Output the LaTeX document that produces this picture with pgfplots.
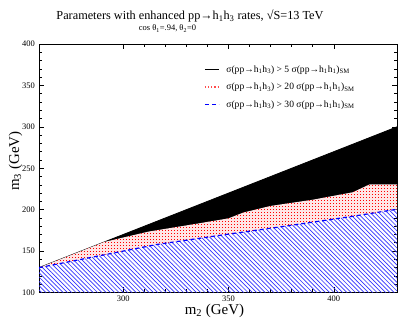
\documentclass[border=0pt]{standalone}
\usepackage{fontspec}
\setmainfont{Liberation Serif}
\usepackage{pgfplots}
\pgfplotsset{compat=1.18}
\usetikzlibrary{patterns,calc}

% diagonal hatch
\pgfdeclarepatternformonly{bluehatch}{\pgfqpoint{-1bp}{-1bp}}{\pgfqpoint{5.3bp}{5.3bp}}{\pgfqpoint{4.3bp}{4.3bp}}{%
  \pgfsetlinewidth{0.7bp}%
  \pgfpathmoveto{\pgfqpoint{0bp}{4.3bp}}%
  \pgfpathlineto{\pgfqpoint{4.4bp}{-0.1bp}}%
  \pgfusepath{stroke}}
% dot grid
\pgfdeclarepatternformonly{reddots}{\pgfqpoint{0bp}{0bp}}{\pgfqpoint{3bp}{3bp}}{\pgfqpoint{3bp}{3bp}}{%
  \pgfpathrectangle{\pgfqpoint{0bp}{0bp}}{\pgfqpoint{1.1bp}{1.1bp}}%
  \pgfusepath{fill}}

\begin{document}
\begin{tikzpicture}
\begin{axis}[
    scale only axis, width=358bp, height=248.5bp,
    xmin=260, xmax=430, ymin=100, ymax=400,
    xtick={300,350,400}, ytick={100,150,...,400},
    minor x tick num=4, minor y tick num=4,
    tick align=inside, major tick length=5bp, minor tick length=3bp,
    axis line style={line width=0.9bp},
    every tick/.style={black, line width=0.6bp},
    /pgf/number format/assume math mode=true,
    tick label style={font=\fontsize{8.5}{10}\selectfont},
    xticklabel style={anchor=base, inner sep=0pt, yshift=-9.3bp},
    yticklabel style={anchor=base east, inner sep=0pt, xshift=-4bp, yshift=-2.9bp},
    legend style={draw=none, fill=none, at={(rel axis cs:0.4609,0.9235)}, anchor=north west,
      font=\fontsize{9.6}{11}\selectfont, inner sep=0pt, row sep=5bp,
      cells={anchor=west, inner sep=0pt, text height=7bp, text depth=2bp},
      /tikz/every odd column/.append style={column sep=5bp}},
    legend image code/.code={\draw[#1] (0bp,0bp) -- (14bp,0bp);},
  ]
  \addlegendimage{black, line width=1.2bp}
  \addlegendentry{σ(pp→h\textsubscript{1}h\textsubscript{3}) > 5 σ(pp→h\textsubscript{1}h\textsubscript{1})\textsubscript{SM}}
  \addlegendimage{red!70, dotted, line width=1.2bp}
  \addlegendentry{σ(pp→h\textsubscript{1}h\textsubscript{3}) > 20 σ(pp→h\textsubscript{1}h\textsubscript{1})\textsubscript{SM}}
  \addlegendimage{blue, dash pattern=on 4bp off 3bp, line width=1.2bp}
  \addlegendentry{σ(pp→h\textsubscript{1}h\textsubscript{3}) > 30 σ(pp→h\textsubscript{1}h\textsubscript{1})\textsubscript{SM}}

  % > 5 x SM (black band)
  \addplot[forget plot, fill=black, draw=black, line width=0.8bp] coordinates {
    (260,130) (430,300) (430,230.5) (417,230.5) (409,221) (390,212) (370,204.5)
    (357,196.5) (350,189.5) (336,183.5) (312,173.5) (291,161) (260,130)} -- cycle;
  % > 20 x SM (red dots)
  \addplot[forget plot, draw=none, fill=red!10, postaction={pattern=reddots, pattern color=red}] coordinates {
    (260,130) (291,161) (312,173.5) (336,183.5) (350,189.5) (357,196.5) (370,204.5)
    (390,212) (409,221) (417,230.5) (430,230.5)
    (430,200.5) (409,192) (374,179) (350,170.5) (316,158) (300,150) (260,130)} -- cycle;
  % > 30 x SM (blue hatch)
  \addplot[forget plot, draw=none, pattern=bluehatch, pattern color=blue!80] coordinates {
    (260,130) (300,150) (316,158) (350,170.5) (374,179) (409,192) (430,200.5)
    (430,100) (260,100)} -- cycle;
  \addplot[forget plot, blue, dash pattern=on 4bp off 3bp, line width=1.2bp] coordinates {
    (260,130) (300,150) (316,158) (350,170.5) (374,179) (409,192) (430,200.5)};

  \coordinate (ll) at (rel axis cs:0,0);
  \coordinate (ur) at (rel axis cs:1,1);
\end{axis}
\node[anchor=base, inner sep=0pt, font=\fontsize{12.3}{14}\selectfont]
  at ($(ll |- ur)+(151bp,24bp)$) {Parameters with enhanced pp→h\textsubscript{1}h\textsubscript{3} rates, √S=13 TeV};
\node[anchor=base, inner sep=0pt, font=\fontsize{8.5}{10}\selectfont]
  at ($(ll |- ur)+(128.5bp,13bp)$) {cos θ\textsubscript{1}=.94, θ\textsubscript{2}=0};
\node[anchor=base, inner sep=0pt, font=\fontsize{15}{17}\selectfont]
  at ($(ll)+(175.5bp,-22bp)$) {m\textsubscript{2} (GeV)};
\node[anchor=base, rotate=90, inner sep=0pt, font=\fontsize{15}{17}\selectfont]
  at ($(ll)+(-20bp,131.5bp)$) {m\textsubscript{3} (GeV)};
\pgfresetboundingbox
\path ($(ll)+(-39bp,-31.5bp)$) rectangle ($(ur)+(2bp,44bp)$);
\end{tikzpicture}
\end{document}
